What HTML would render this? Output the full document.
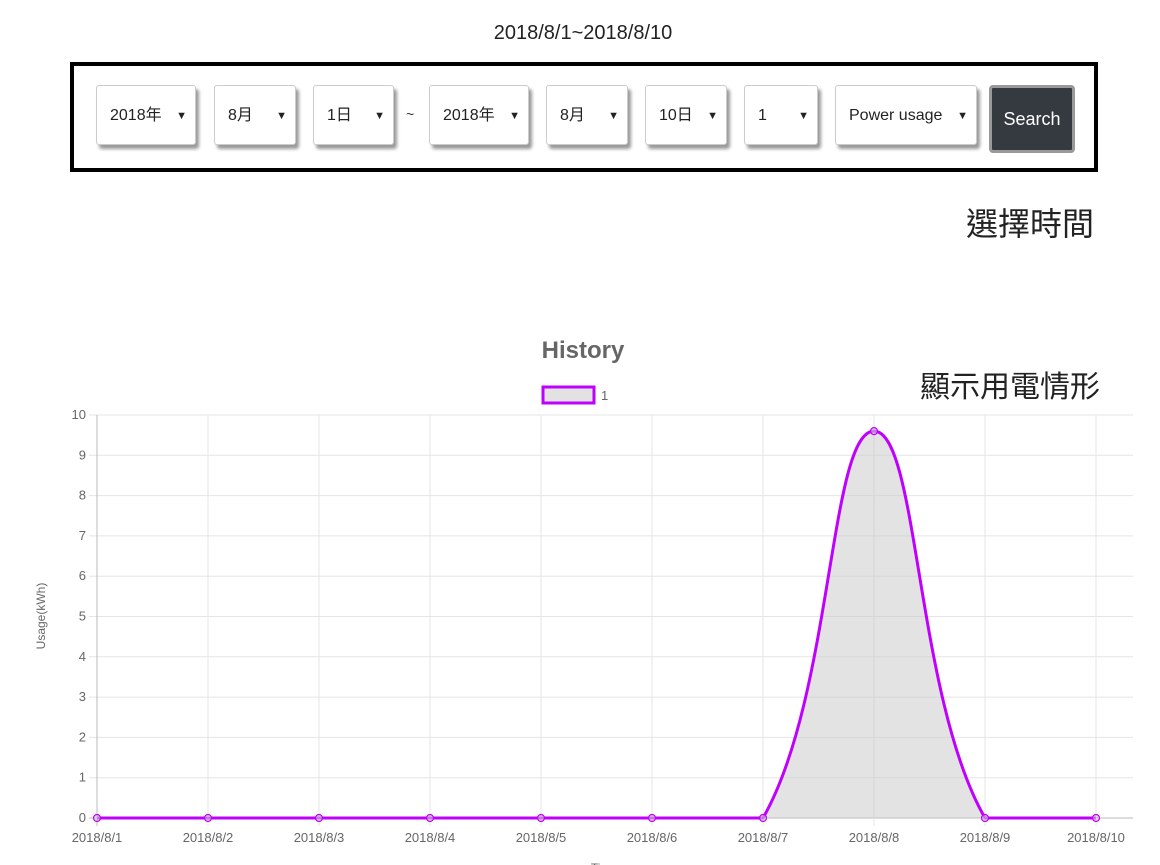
<!DOCTYPE html>
<html><head><meta charset="utf-8"><style>
body{margin:0;width:1160px;height:865px;background:#fff;font-family:"Liberation Sans","Noto Sans CJK TC",sans-serif;position:relative;overflow:hidden}
.abs{position:absolute}
.sel{position:absolute;top:85px;height:60px;background:#fff;border:1px solid #ccc;border-radius:3px;box-shadow:3px 4px 3px #999;box-sizing:border-box;font-size:16px;color:#222;line-height:60px;padding-left:13px}
.sel:after{content:"▼";position:absolute;right:8px;top:0;font-size:11px}
</style></head><body>
<div class="abs" style="left:0;width:1166px;top:22px;text-align:center;font-size:20px;color:#222">2018/8/1~2018/8/10</div>
<div class="abs" style="left:70px;top:62px;width:1028px;height:110px;border:4px solid #000;box-sizing:border-box"></div>
<div class="sel" style="left:96px;width:100px">2018年</div>
<div class="sel" style="left:214px;width:82px">8月</div>
<div class="sel" style="left:313px;width:81px">1日</div>
<div class="abs" style="left:406px;top:106px;font-size:14px;color:#333">~</div>
<div class="sel" style="left:429px;width:100px">2018年</div>
<div class="sel" style="left:546px;width:82px">8月</div>
<div class="sel" style="left:645px;width:82px">10日</div>
<div class="sel" style="left:744px;width:74px">1</div>
<div class="sel" style="left:835px;width:142px">Power usage</div>
<div class="abs" style="left:989px;top:85px;width:86px;height:68px;background:#343a40;border:3px solid #999;border-radius:4px;box-sizing:border-box;color:#fff;font-size:18px;text-align:center;line-height:62px">Search</div>
<div class="abs" style="left:966px;top:199px;font-size:32px;color:#222">選擇時間</div>
<div class="abs" style="left:920px;top:362px;font-size:30px;color:#222">顯示用電情形</div>
<svg class="abs" style="left:0;top:0" width="1160" height="865" id="chart">
<text x="583" y="358" text-anchor="middle" font-size="24" font-weight="bold" fill="#666">History</text>
<rect x="543" y="387" width="51" height="16" fill="#e2e2e2" stroke="#c000ff" stroke-width="3"/>
<text x="601" y="400" font-size="13" fill="#666">1</text>
<text transform="translate(45,616) rotate(-90)" text-anchor="middle" font-size="12" fill="#666">Usage(kWh)</text>
<g id="g"></g>
</svg>
<script>
const categories=["2018/8/1","2018/8/2","2018/8/3","2018/8/4","2018/8/5","2018/8/6","2018/8/7","2018/8/8","2018/8/9","2018/8/10"];
const usage=[0,0,0,0,0,0,0,9.6,0,0];
const yTicks=[0,1,2,3,4,5,6,7,8,9,10];
const X0=97,XS=111,Y0=818,YT=415,YMAX=10,RIGHT=1133;
const xs=i=>X0+i*XS, ys=v=>Y0-(v/YMAX)*(Y0-YT);
const g=document.getElementById('g');const NS='http://www.w3.org/2000/svg';
function mk(t,a,txt){const e=document.createElementNS(NS,t);for(const k in a)e.setAttribute(k,a[k]);if(txt!=null)e.textContent=txt;g.appendChild(e);return e;}
yTicks.forEach(v=>{const l=mk('line',{x1:X0-8,x2:RIGHT,y1:ys(v),y2:ys(v),stroke:v==0?'#bbb':'#e5e5e5'});


const t=mk('text',{x:X0-11,y:ys(v)+4,'text-anchor':'end','font-size':13,fill:'#666'},v);

});
categories.forEach((c,i)=>{const l=mk('line',{x1:xs(i),x2:xs(i),y1:YT,y2:Y0+8,stroke:i==0?'#bbb':'#e5e5e5'});


const t=mk('text',{x:xs(i),y:Y0+24,'text-anchor':'middle','font-size':13,fill:'#666'},c);

});
const pts=usage.map((v,i)=>[xs(i),ys(v)]);const T=0.4;
function cps(i){const p=pts[Math.max(i-1,0)],c=pts[i],n=pts[Math.min(i+1,pts.length-1)];
const d01=Math.hypot(c[0]-p[0],c[1]-p[1]),d12=Math.hypot(n[0]-c[0],n[1]-c[1]);
let fa=d01/(d01+d12)||0,fb=d12/(d01+d12)||0;fa*=T;fb*=T;
return [[c[0]-fa*(n[0]-p[0]),c[1]-fa*(n[1]-p[1])],[c[0]+fb*(n[0]-p[0]),c[1]+fb*(n[1]-p[1])]];}
let d='M'+pts[0][0]+','+pts[0][1];
for(let i=1;i<pts.length;i++){const a=cps(i-1)[1],b=cps(i)[0];
const cl=y=>Math.min(Y0,Math.max(YT,y));
d+=` C${a[0]},${cl(a[1])} ${b[0]},${cl(b[1])} ${pts[i][0]},${pts[i][1]}`;}
const f=mk('path',{d:d+` L${pts[pts.length-1][0]},${Y0} L${pts[0][0]},${Y0} Z`,fill:'rgba(200,200,200,0.5)',stroke:'none'});


const ln=mk('path',{d:d,fill:'none',stroke:'#c000ff','stroke-width':3});


pts.forEach(p=>{const c=mk('circle',{cx:p[0],cy:p[1],r:3.5,fill:'rgba(200,200,200,0.6)',stroke:'#c000ff','stroke-width':1.2});

});
const xt=mk('text',{x:604,y:872,'text-anchor':'middle','font-size':12,fill:'#666'},'Time');


</script>
</body></html>
